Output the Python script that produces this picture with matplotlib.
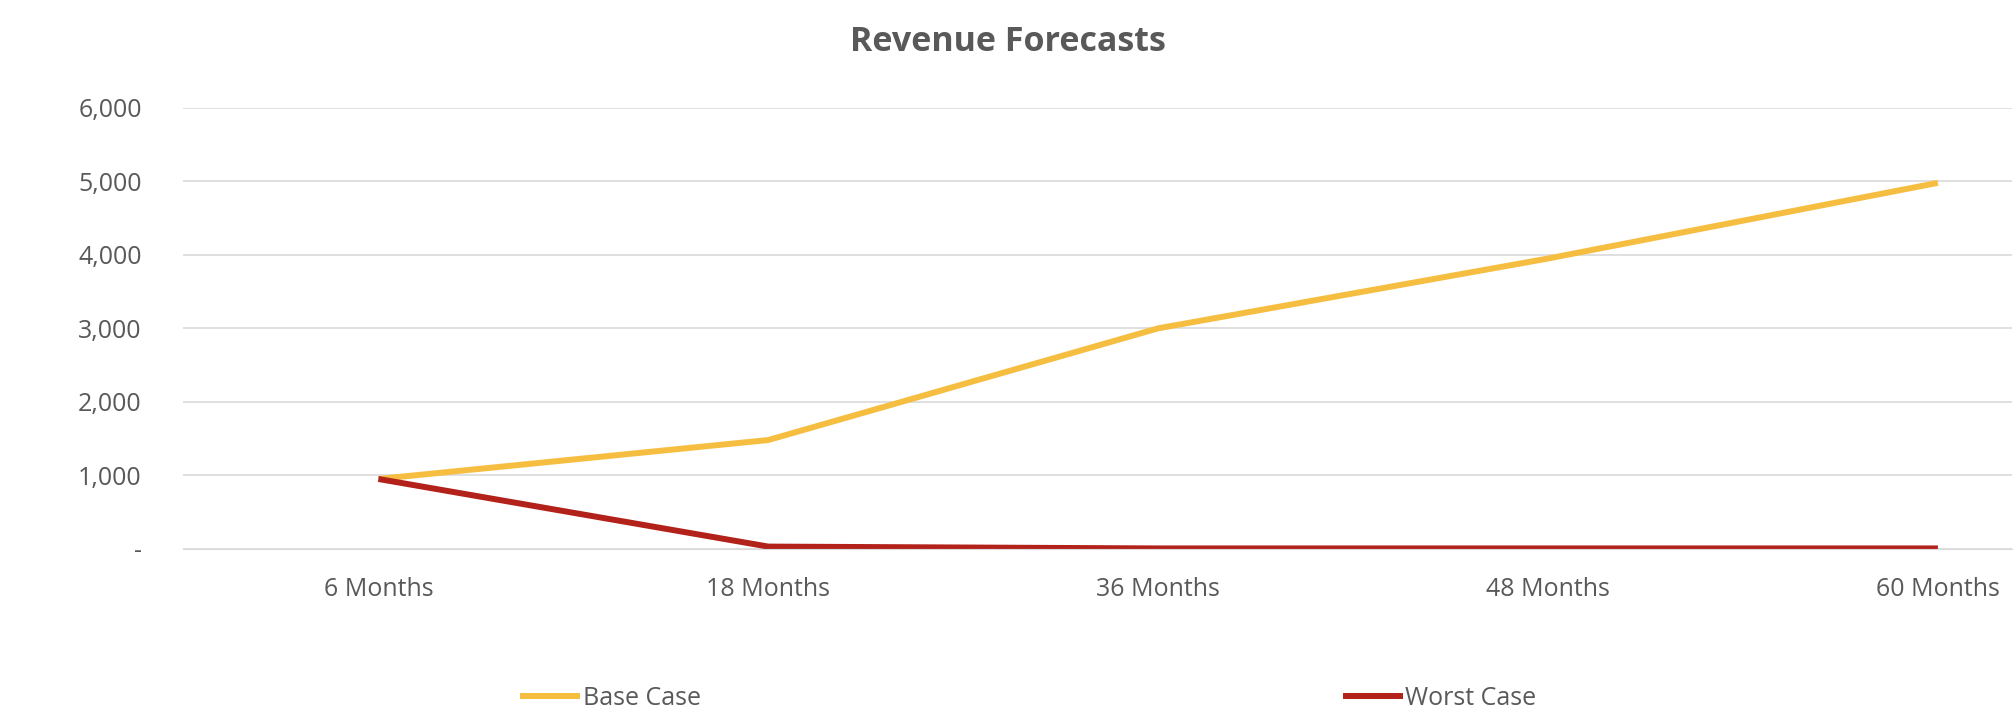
import numpy as np
import matplotlib.pyplot as plt
from matplotlib.ticker import FuncFormatter

plt.rcParams['font.family'] = ['Open Sans', 'DejaVu Sans']

categories = ["6 Months", "18 Months", "36 Months", "48 Months", "60 Months"]
base_case = [950, 1480, 3000, 3950, 4980]
worst_case = [950, 30, 5, 5, 5]

grey = "#595959"
fig = plt.figure(figsize=(20.16, 7.24), dpi=100)
ax = fig.add_axes([0.091, 0.242, 0.907, 0.609])
x = np.arange(len(categories))
l1, = ax.plot(x, base_case, color="#F6BE41", lw=4.3, solid_capstyle="butt", label="Base Case")
l2, = ax.plot(x, worst_case, color="#B3221A", lw=4.3, solid_capstyle="butt", label="Worst Case")

ax.set_xlim(-0.5, 4.19)
ax.set_ylim(0, 6000)
ax.set_yticks(np.arange(0, 6001, 1000))
ax.yaxis.set_major_formatter(FuncFormatter(lambda v, p: "-" if v == 0 else f"{int(v):,}"))
ax.set_xticks(x)
ax.set_xticklabels(categories)
ax.grid(axis="y", color="#D9D9D9", lw=1.2)
ax.set_axisbelow(True)
for s in ax.spines.values():
    s.set_visible(False)
ax.spines["bottom"].set_visible(True)
ax.spines["bottom"].set_color("#D9D9D9")
ax.tick_params(length=0, labelsize=18, colors=grey, pad=20)
ax.tick_params(axis="y", pad=30)
fig.suptitle("Revenue Forecasts", y=0.965, fontsize=24.5, fontweight="bold", color=grey)

fig.legend(handles=[l1], loc="center left", bbox_to_anchor=(0.247, 0.035), frameon=False,
           fontsize=18, labelcolor=grey, handlelength=2.4, handletextpad=0.1)
fig.legend(handles=[l2], loc="center left", bbox_to_anchor=(0.655, 0.035), frameon=False,
           fontsize=18, labelcolor=grey, handlelength=2.4, handletextpad=0.1)
fig.savefig("out.png")
